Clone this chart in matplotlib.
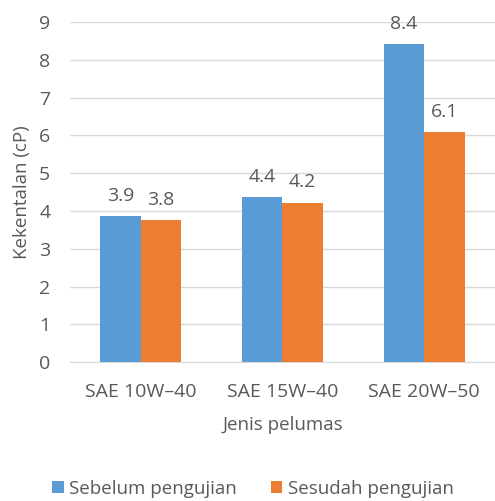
import numpy as np
import matplotlib.pyplot as plt

plt.rcParams['font.family'] = ['Open Sans', 'DejaVu Sans']

categories = ['SAE 10W\u201340', 'SAE 15W\u201340', 'SAE 20W\u201350']
sebelum = [3.87, 4.37, 8.41]
sesudah = [3.76, 4.22, 6.09]

blue = '#5B9BD5'
orange = '#ED7D31'
txt = '#595959'

fig = plt.figure(figsize=(4.95, 5.01), dpi=100)
ax = fig.add_axes([0.141, 0.277, 0.859, 0.679])

x = np.arange(len(categories))
w = 0.285
b1 = ax.bar(x - w / 2, sebelum, w, color=blue, label='Sebelum pengujian', zorder=3)
b2 = ax.bar(x + w / 2, sesudah, w, color=orange, label='Sesudah pengujian', zorder=3)

for bars in (b1, b2):
    for r in bars:
        v = r.get_height()
        ax.text(r.get_x() + r.get_width() / 2, v + 0.3, f'{v:.1f}',
                ha='center', va='bottom', fontsize=14, color=txt)

ax.set_xlim(-0.5, 2.5)
ax.set_ylim(0, 9)
ax.set_yticks(range(10))
ax.set_xticks(x)
ax.set_xticklabels(categories)
ax.tick_params(length=0, labelsize=14, colors=txt)
ax.tick_params(axis='x', pad=15)
ax.tick_params(axis='y', pad=14)
ax.grid(axis='y', color='#D9D9D9', linewidth=1, zorder=0)
for s in ['top', 'right', 'left']:
    ax.spines[s].set_visible(False)
ax.spines['bottom'].set_color('#D9D9D9')
ax.set_ylabel('Kekentalan (cP)', fontsize=13.5, color=txt, labelpad=6)
ax.set_xlabel('Jenis pelumas', fontsize=13.5, color=txt, labelpad=11)

fig.legend(loc='center', bbox_to_anchor=(0.511, 0.024), ncol=2, frameon=False,
           fontsize=13.5, labelcolor=txt, handlelength=0.6, handleheight=0.6,
           handletextpad=0.3, columnspacing=1.8)

fig.savefig('out.png', dpi=100)
